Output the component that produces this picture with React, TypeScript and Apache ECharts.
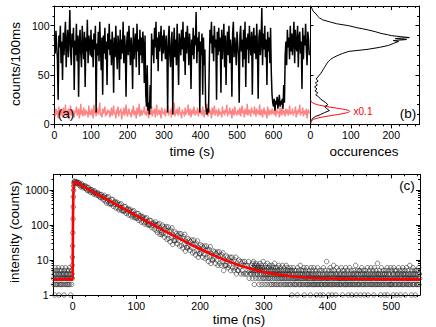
import React, { useEffect, useRef } from "react";
import * as echarts from "echarts";

// ---------- (a) intensity time trace, 2 s bins ----------
const TRACE_BIN_S = 2;
const blackTrace = [
  88, 72, 95, 80, 66, 25, 90, 78, 100, 62, 84, 45, 93, 70, 88, 104, 58, 82, 96, 68, 86, 116, 74, 60, 92,
  78, 98, 35, 85, 70, 102, 64, 90, 28, 84, 96, 72, 58, 100, 80, 66, 94, 38, 88, 74, 106, 62, 90, 82, 70,
  96, 68, 86, 58, 92, 76, 100, 12, 82, 70, 94, 64, 104, 78, 55, 88, 30, 90, 72, 98, 66, 84, 40, 92, 76,
  102, 70, 86, 60, 94, 78, 32, 88, 68, 100, 74, 56, 90, 82, 45, 96, 66, 86, 72, 104, 62, 90, 78, 28, 84,
  94, 70, 100, 80, 60, 88, 76, 36, 98, 66, 84, 92, 58, 102, 74, 86, 50, 96, 70, 88, 62, 94, 80, 42, 90,
  30, 18, 60, 14, 22, 10, 40, 16, 92, 70, 86, 62, 98, 78, 104, 66, 88, 54, 94, 74, 84, 100, 64, 90, 72,
  96, 80, 66, 90, 76, 12, 88, 100, 70, 58, 84, 94, 10, 78, 98, 68, 86, 60, 102, 74, 40, 92, 82, 70, 96,
  76, 104, 64, 88, 50, 94, 72, 100, 84, 60, 92, 78, 36, 86, 70, 98, 66, 90, 80, 114, 62, 88, 74, 94, 12,
  84, 70, 92, 30, 88, 60, 76, 20, 14, 10, 16, 12, 60, 96, 82, 104, 72, 90, 64, 100, 78, 86, 25, 94, 70,
  98, 74, 88, 32, 96, 66, 84, 102, 58, 90, 40, 80, 94, 70, 100, 62, 86, 76, 28, 92, 104, 68, 88, 78, 60,
  94, 82, 70, 22, 90, 100, 74, 86, 58, 96, 66, 104, 38, 88, 76, 92, 62, 100, 80, 70, 94, 30, 86, 98, 72,
  90, 66, 102, 78, 26, 88, 96, 70, 84, 118, 60, 92, 76, 100, 68, 86, 40, 94, 74, 88, 62, 98, 52, 30, 22,
  18, 26, 14, 24, 20, 28, 16, 22, 30, 18, 24, 20, 26, 16, 40, 22, 70, 84, 60, 96, 78, 88, 66, 100, 74,
  92, 70, 86, 104, 62, 96, 80, 74, 100, 58, 88, 94, 72, 84, 36, 98, 66, 90, 80, 102, 76, 60, 94, 86, 70,
];
const redTrace = [
  12, 8, 16, 10, 14, 6, 18, 11, 9, 15, 13, 7, 17, 12, 10, 20, 8, 14, 11, 16, 5, 13, 19, 9, 12,
  15, 10, 7, 14, 12, 18, 9, 13, 16, 6, 11, 21, 10, 14, 8, 17, 12, 9, 15, 11, 13, 7, 19, 10, 14,
  9, 16, 12, 6, 20, 11, 14, 8, 17, 13, 10, 15, 22, 9, 12, 7, 16, 11, 14, 18, 8, 13, 10, 15, 12,
  14, 7, 11, 17, 9, 13, 19, 10, 12, 6, 15, 11, 18, 8, 14, 12, 16, 5, 13, 10, 17, 9, 12, 20, 11,
  8, 13, 16, 10, 12, 7, 15, 11, 19, 9, 14, 12, 6, 17, 10, 13, 21, 8, 11, 15, 9, 14, 12, 18, 10,
  13, 9, 17, 11, 6, 15, 12, 10, 18, 8, 14, 11, 16, 7, 13, 20, 9, 12, 15, 10, 14, 6, 17, 11, 13,
  10, 16, 8, 14, 12, 19, 9, 13, 11, 15, 7, 17, 12, 10, 22, 8, 14, 11, 16, 9, 13, 18, 10, 12, 6,
  15, 11, 13, 8, 17, 10, 14, 12, 20, 9, 11, 16, 7, 13, 15, 10, 18, 12, 9, 14, 11, 17, 8, 13, 16,
  11, 14, 9, 18, 12, 7, 15, 10, 13, 21, 8, 12, 16, 11, 14, 6, 17, 10, 13, 19, 9, 12, 15, 11, 8,
  16, 10, 13, 12, 7, 18, 11, 14, 9, 15, 12, 20, 8, 13, 11, 17, 10, 14, 6, 16, 12, 9, 18, 11, 13,
  9, 15, 12, 10, 17, 8, 13, 19, 11, 14, 7, 16, 12, 10, 21, 9, 13, 15, 11, 8, 17, 12, 14, 10, 18,
  12, 8, 16, 11, 14, 10, 20, 9, 13, 15, 7, 12, 17, 10, 14, 11, 6, 18, 13, 9, 15, 12, 10, 16, 11,
  14, 10, 18, 8, 12, 15, 11, 13, 7, 17, 12, 9, 21, 10, 14, 13, 8, 16, 11, 15, 9, 12, 19, 10, 13,
  11, 16, 9, 13, 12, 18, 7, 14, 10, 15, 12, 20, 9, 13, 11, 17, 8, 14, 12, 10, 16, 6, 13, 15, 11,
];

// ---------- (b) histograms of counts ----------
const histCountBins = [
  0, 2, 4, 6, 8, 10, 12, 14, 16, 18, 20, 22, 24, 26, 28, 30, 32, 34, 36, 38, 40, 42, 44, 46, 48, 50,
  52, 54, 56, 58, 60, 62, 64, 66, 68, 70, 72, 74, 76, 78, 80, 82, 84, 85, 86, 87, 88, 89, 90, 91, 92,
  94, 96, 97, 98, 100, 102, 104, 106, 108, 110, 112, 114, 116, 118, 120,
];
const histBlackOcc = [
  0, 1, 2, 5, 12, 25, 35, 47, 40, 35, 43, 38, 31, 24, 20, 13, 18, 11, 16, 10, 17, 12, 19, 14, 18, 22,
  26, 29, 32, 35, 38, 41, 45, 50, 58, 68, 80, 95, 140, 170, 193, 205, 218, 205, 238, 210, 245, 222, 200, 190, 177,
  160, 140, 128, 115, 95, 65, 47, 30, 22, 17, 14, 8, 5, 3, 1,
];
const redHistBins = [2, 3, 4, 5, 6, 7, 8, 9, 10, 11, 12, 13, 14, 15, 16, 17, 18, 19, 20, 21, 22, 23, 24, 25];
const redHistOccScaled = [0, 1, 3, 7, 14, 24, 37, 52, 67, 81, 92, 97, 95, 86, 72, 56, 41, 28, 17, 10, 5, 2, 1, 0];

// ---------- (c) fluorescence decay ----------
const PRE_START_NS = -30;
const PRE_BIN_NS = 0.5;
const preCounts = [
  3, 2, 5, 4, 1, 3, 6, 2, 4, 3, 2, 5, 3, 4, 2, 6, 3, 1, 4, 2, 5, 3, 2, 4, 3, 5, 2, 6, 3, 4,
  2, 3, 4, 1, 5, 3, 2, 4, 6, 3, 2, 4, 3, 5, 2, 3, 4, 2, 5, 3, 6, 2, 4, 3, 1, 3, 5, 2, 4, 3,
];
const riseTimes = [-0.6, -0.3, 0, 0.3, 0.6, 0.9, 1.2, 1.5, 1.8, 2.1, 2.4];
const riseCounts = [7, 12, 25, 60, 150, 330, 640, 980, 1300, 1540, 1700];
const DECAY_START_NS = 3;
const DECAY_BIN_NS = 1;
const decayCounts = [
  1790, 1650, 1720, 1560, 1700, 1530, 1610,
  1599, 1346, 1442, 1216, 1511, 1278, 1354, 1146, 1229, 1321,
  1116, 1263, 1011, 1162, 953, 1171, 961, 1029, 848, 1020,
  1005, 846, 907, 764, 950, 803, 851, 721, 773, 830,
  702, 794, 636, 731, 599, 737, 604, 647, 534, 641,
  703, 486, 588, 427, 614, 480, 638, 408, 496, 418,
  391, 536, 400, 529, 339, 447, 385, 455, 305, 415,
  443, 306, 370, 269, 387, 302, 401, 257, 313, 263,
  246, 338, 252, 333, 214, 282, 242, 287, 192, 261,
  280, 193, 234, 170, 244, 191, 254, 162, 197, 166,
  155, 213, 159, 211, 135, 178, 153, 181, 121, 165,
  176, 122, 147, 107, 154, 120, 160, 102, 125, 105,
  98, 135, 101, 133, 85, 112, 97, 114, 77, 104,
  122, 71, 98, 61, 104, 73, 110, 54, 81, 62,
  54, 99, 57, 89, 45, 79, 55, 89, 39, 68,
  87, 41, 66, 33, 71, 45, 83, 28, 52, 36,
  35, 63, 37, 57, 29, 50, 36, 57, 25, 44,
  56, 26, 42, 22, 46, 29, 54, 18, 34, 23,
  22, 41, 24, 37, 19, 33, 23, 37, 16, 28,
  37, 17, 28, 14, 30, 19, 35, 12, 22, 15,
  15, 27, 16, 25, 12, 22, 15, 25, 11, 19,
  25, 12, 19, 9, 20, 13, 24, 8, 15, 10,
  10, 18, 11, 17, 8, 15, 10, 17, 7, 13,
  17, 8, 13, 7, 14, 9, 16, 5, 10, 7,
  7, 13, 7, 12, 6, 10, 7, 12, 5, 9,
  12, 6, 9, 5, 10, 6, 12, 4, 7, 5,
  5, 10, 6, 9, 4, 8, 5, 9, 4, 7,
  9, 4, 7, 4, 7, 5, 9, 3, 5, 4,
];
const TAIL_START_NS = 280;
const TAIL_BIN_NS = 0.5;
const tailCounts = [
  5, 7, 4, 6, 3, 8, 5, 9, 4, 6, 2, 7, 5, 6, 3, 8, 4, 5, 7, 6,
  4, 6, 3, 7, 5, 2, 6, 4, 8, 5, 3, 6, 4, 7, 2, 5, 6, 3, 9, 4,
  3, 5, 6, 2, 4, 7, 3, 5, 4, 6, 2, 8, 4, 3, 5, 6, 3, 4, 7, 2,
  5, 3, 4, 6, 2, 5, 7, 3, 4, 2, 6, 4, 5, 3, 8, 2, 4, 6, 3, 5,
  2, 4, 6, 3, 5, 2, 4, 7, 3, 4, 5, 2, 6, 3, 4, 2, 5, 3, 7, 4,
  3, 5, 2, 4, 6, 3, 2, 5, 4, 3, 7, 2, 4, 3, 5, 6, 2, 4, 3, 5,
  4, 2, 3, 6, 2, 5, 3, 4, 1, 5, 3, 2, 6, 4, 3, 2, 5, 3, 4, 2,
  3, 5, 2, 4, 3, 1, 6, 3, 4, 2, 5, 3, 2, 4, 7, 3, 2, 4, 3, 5,
  2, 4, 3, 5, 2, 3, 6, 1, 4, 3, 2, 5, 3, 4, 2, 6, 3, 2, 4, 3,
  4, 2, 5, 3, 2, 4, 1, 3, 6, 2, 4, 3, 5, 2, 3, 4, 2, 6, 3, 2,
  3, 4, 2, 5, 3, 1, 4, 2, 3, 6, 2, 4, 3, 2, 5, 3, 4, 1, 3, 2,
  2, 3, 5, 2, 4, 3, 1, 6, 3, 2, 4, 2, 5, 3, 2, 4, 3, 9, 2, 3,
  4, 2, 3, 1, 5, 3, 2, 4, 6, 2, 3, 4, 2, 5, 1, 3, 2, 4, 3, 7,
  2, 5, 3, 2, 4, 3, 1, 4, 2, 6, 3, 2, 4, 3, 5, 2, 3, 4, 2, 3,
  3, 2, 4, 6, 2, 3, 5, 1, 3, 4, 2, 3, 5, 2, 4, 3, 2, 6, 3, 2,
  4, 3, 2, 5, 3, 1, 4, 2, 3, 6, 2, 4, 3, 2, 5, 3, 1, 4, 2, 3,
  2, 4, 3, 5, 2, 3, 4, 2, 7, 3, 1, 4, 2, 5, 3, 2, 4, 3, 2, 5,
  3, 2, 5, 1, 4, 3, 2, 6, 3, 4, 2, 3, 5, 2, 4, 1, 3, 2, 4, 3,
  5, 2, 3, 4, 2, 6, 3, 1, 4, 3, 2, 5, 3, 2, 4, 3, 6, 2, 3, 4,
  2, 3, 5, 2, 4, 1, 3, 6, 2, 4, 3, 2, 5, 3, 4, 2, 3, 8, 2, 4,
  3, 4, 2, 5, 3, 2, 4, 1, 3, 6, 2, 3, 4, 2, 5, 3, 2, 4, 3, 1,
  4, 2, 3, 5, 2, 4, 3, 6, 1, 3, 2, 4, 5, 2, 3, 4, 2, 3, 6, 2,
  2, 5, 3, 2, 4, 3, 1, 4, 6, 2, 3, 5, 2, 4, 3, 2, 5, 1, 3, 4,
  3, 2, 4, 6, 2, 3, 5, 2, 4, 1, 3, 2, 4, 3, 5, 2, 6, 3, 2, 4,
  4, 3, 2, 5, 1, 3, 4, 2, 6, 3, 2, 4, 3, 5, 2, 3, 4, 2, 7, 3,
  2, 4, 3, 1, 5, 3, 2, 4, 6, 2, 3, 4, 2, 5, 3, 1, 4, 3, 2, 5,
  3, 2, 4, 5, 2, 3, 6, 2, 4, 3,
];
const fitTimes = [
  -30, -1, 0, 0.6, 1.2, 1.8, 2.5, 3.2, 4, 10, 20, 30, 40, 50, 60, 70, 80, 90, 100, 110, 120, 130, 140, 150,
  160, 170, 180, 190, 200, 210, 220, 230, 240, 250, 260, 270, 280, 290, 300, 320, 340, 360, 380, 400, 450, 500, 545,
];
const fitValues = [
  2.8, 2.8, 3, 200, 800, 1350, 1650, 1720, 1700, 1481, 1175, 931, 739, 586, 465, 369, 293, 233, 185, 147, 117, 93.6, 74.8, 59.8,
  48, 38.6, 31.2, 25.3, 20.6, 16.9, 14.0, 11.7, 9.8, 8.4, 7.2, 6.3, 5.6, 5.0, 4.5, 3.9, 3.5, 3.2, 3.07, 2.97, 2.86, 2.82, 2.8,
];

// ---------- tick values ----------
const traceLabels = [0, 100, 200, 300, 400, 500, 600];
const countsLabels = [0, 50, 100];
const occLabels = [0, 100, 200];
const nsLabels = [0, 100, 200, 300, 400, 500];
const logLabels = [1, 10, 100, 1000];

const FONT = "'Liberation Sans', Arial, Helvetica, sans-serif";

function stepTicks(from: number, to: number, step: number) {
  const out: number[] = [];
  for (let v = from; v <= to + 1e-9; v += step) out.push(Math.round(v * 1000) / 1000);
  return out;
}
function minorOf(all: number[], majors: number[]) {
  return all.filter((v) => !majors.includes(v));
}
function logMinor(maxV: number) {
  const out: number[] = [];
  for (const d of [1, 10, 100, 1000]) for (let k = 2; k <= 9; k++) if (k * d <= maxV) out.push(k * d);
  return out;
}

type AxOpt = {
  grid: number; pos: string; min: number; max: number; ticks: number[]; len: number;
  inside: boolean; line: boolean; labels?: number[]; log?: boolean;
};
function mkAxis(o: AxOpt) {
  return {
    type: o.log ? "log" : "value",
    logBase: 10,
    gridIndex: o.grid,
    position: o.pos,
    min: o.min,
    max: o.max,
    silent: true,
    axisLine: { show: o.line, onZero: false, lineStyle: { color: "#000", width: 1 } },
    axisTick: {
      show: o.ticks.length > 0, inside: o.inside, length: o.len, customValues: o.ticks,
      lineStyle: { color: "#000", width: 1 },
    },
    axisLabel: o.labels
      ? {
          show: true, customValues: o.labels, formatter: (v: number) => String(Math.round(v)),
          fontSize: 10.5, fontFamily: FONT, color: "#000", margin: 5,
        }
      : { show: false },
    splitLine: { show: false },
    minorTick: { show: false },
    minorSplitLine: { show: false },
  };
}

function buildOption() {
  const T_MAX = 700, C_MAX = 120, OCC_MAX = 270, NS_MIN = -30, NS_MAX = 545, LOG_MAX = 2800;
  const traceAll = stepTicks(0, 680, 20);
  const countAll = stepTicks(0, 120, 10);
  const occAll = stepTicks(0, 260, 20);
  const nsAll = stepTicks(-20, 540, 20);
  const logMin = logMinor(LOG_MAX);

  const xAxis = [
    mkAxis({ grid: 0, pos: "bottom", min: 0, max: T_MAX, ticks: traceLabels, len: 4, inside: false, line: true, labels: traceLabels }),
    mkAxis({ grid: 0, pos: "bottom", min: 0, max: T_MAX, ticks: minorOf(traceAll, traceLabels), len: 2, inside: false, line: false }),
    mkAxis({ grid: 0, pos: "top", min: 0, max: T_MAX, ticks: traceLabels, len: 4, inside: true, line: true }),
    mkAxis({ grid: 0, pos: "top", min: 0, max: T_MAX, ticks: minorOf(traceAll, traceLabels), len: 2, inside: true, line: false }),
    mkAxis({ grid: 1, pos: "bottom", min: 0, max: OCC_MAX, ticks: occLabels, len: 4, inside: false, line: true, labels: occLabels }),
    mkAxis({ grid: 1, pos: "bottom", min: 0, max: OCC_MAX, ticks: minorOf(occAll, occLabels), len: 2, inside: false, line: false }),
    mkAxis({ grid: 1, pos: "top", min: 0, max: OCC_MAX, ticks: occLabels, len: 4, inside: true, line: true }),
    mkAxis({ grid: 1, pos: "top", min: 0, max: OCC_MAX, ticks: minorOf(occAll, occLabels), len: 2, inside: true, line: false }),
    mkAxis({ grid: 2, pos: "bottom", min: NS_MIN, max: NS_MAX, ticks: nsLabels, len: 4, inside: false, line: true, labels: nsLabels }),
    mkAxis({ grid: 2, pos: "bottom", min: NS_MIN, max: NS_MAX, ticks: minorOf(nsAll, nsLabels), len: 2, inside: false, line: false }),
    mkAxis({ grid: 2, pos: "top", min: NS_MIN, max: NS_MAX, ticks: nsLabels, len: 4, inside: true, line: true }),
    mkAxis({ grid: 2, pos: "top", min: NS_MIN, max: NS_MAX, ticks: minorOf(nsAll, nsLabels), len: 2, inside: true, line: false }),
  ];
  const yAxis = [
    mkAxis({ grid: 0, pos: "left", min: 0, max: C_MAX, ticks: countsLabels, len: 4, inside: false, line: true, labels: countsLabels }),
    mkAxis({ grid: 0, pos: "left", min: 0, max: C_MAX, ticks: minorOf(countAll, countsLabels), len: 2, inside: false, line: false }),
    mkAxis({ grid: 1, pos: "left", min: 0, max: C_MAX, ticks: countsLabels, len: 3, inside: true, line: true }),
    mkAxis({ grid: 1, pos: "right", min: 0, max: C_MAX, ticks: countsLabels, len: 4, inside: true, line: true }),
    mkAxis({ grid: 1, pos: "right", min: 0, max: C_MAX, ticks: minorOf(countAll, countsLabels), len: 2.5, inside: true, line: false }),
    mkAxis({ grid: 2, pos: "left", min: 1, max: LOG_MAX, ticks: logLabels, len: 4, inside: false, line: true, labels: logLabels, log: true }),
    mkAxis({ grid: 2, pos: "left", min: 1, max: LOG_MAX, ticks: logMin, len: 2, inside: false, line: false, log: true }),
    mkAxis({ grid: 2, pos: "right", min: 1, max: LOG_MAX, ticks: logLabels, len: 4, inside: true, line: true, log: true }),
    mkAxis({ grid: 2, pos: "right", min: 1, max: LOG_MAX, ticks: logMin, len: 2, inside: true, line: false, log: true }),
  ];

  const blackData = blackTrace.map((v, i) => [i * TRACE_BIN_S, v]);
  const redData = redTrace.map((v, i) => [i * TRACE_BIN_S, v]);
  const histBlack = histCountBins.map((c, i) => [histBlackOcc[i], c]);
  const histRed = redHistBins.map((c, i) => [redHistOccScaled[i], c]);

  const scatter: number[][] = [];
  preCounts.forEach((v, i) => scatter.push([PRE_START_NS + i * PRE_BIN_NS, v]));
  riseTimes.forEach((t, i) => scatter.push([t, riseCounts[i]]));
  decayCounts.forEach((v, i) => scatter.push([DECAY_START_NS + i * DECAY_BIN_NS, v]));
  tailCounts.forEach((v, i) => scatter.push([TAIL_START_NS + i * TAIL_BIN_NS, v]));
  const scatterData = scatter.filter((p) => p[1] > 0);
  const fitData = fitTimes.map((t, i) => [t, fitValues[i]]);

  const txt = (text: string, x: number, y: number, size: number, opts: any = {}) => ({
    type: "text", x, y, rotation: opts.rot || 0, z: 100,
    style: {
      text, fontSize: size, fontFamily: FONT, fill: opts.color || "#000",
      align: "center", verticalAlign: "middle",
    },
  });

  return {
    animation: false,
    backgroundColor: "#fff",
    grid: [
      { left: 54.5, top: 6, width: 255.5, height: 118.4 },
      { left: 310.5, top: 6, width: 109, height: 118.4 },
      { left: 53.5, top: 174.3, width: 366.5, height: 120.7 },
    ],
    xAxis,
    yAxis,
    series: [
      {
        type: "line", xAxisIndex: 0, yAxisIndex: 0, data: redData, showSymbol: false, symbol: "none",
        lineStyle: { color: "#ff4040", width: 1.4, opacity: 0.65 }, silent: true, z: 2,
      },
      {
        type: "line", xAxisIndex: 0, yAxisIndex: 0, data: blackData, showSymbol: false, symbol: "none",
        lineStyle: { color: "#000", width: 1.5 }, silent: true, z: 3,
      },
      {
        type: "line", xAxisIndex: 4, yAxisIndex: 2, data: histBlack, showSymbol: false, symbol: "none",
        lineStyle: { color: "#000", width: 1 }, silent: true, z: 3,
      },
      {
        type: "line", xAxisIndex: 4, yAxisIndex: 2, data: histRed, showSymbol: false, symbol: "none", smooth: 0.3,
        lineStyle: { color: "#ff0000", width: 1 }, silent: true, z: 3,
      },
      {
        type: "scatter", xAxisIndex: 8, yAxisIndex: 5, data: scatterData, symbol: "circle", symbolSize: 4.5,
        itemStyle: { color: "rgba(0,0,0,0)", borderColor: "#222", borderWidth: 0.7 }, silent: true, z: 2,
      },
      {
        type: "line", xAxisIndex: 8, yAxisIndex: 5, data: fitData, showSymbol: false, symbol: "none",
        lineStyle: { color: "#ff0000", width: 2.6 }, silent: true, z: 4,
      },
    ],
    graphic: [
      txt("counts/100ms", 15, 64, 13.5, { rot: Math.PI / 2 }),
      txt("time (s)", 192, 151, 13.5),
      txt("occurences", 364, 151, 13.5),
      txt("intensity (counts)", 14, 232, 13.5, { rot: Math.PI / 2 }),
      txt("time (ns)", 239, 319, 13.5),
      txt("(a)", 66, 113, 13.5),
      txt("(b)", 408, 113, 13.5),
      txt("(c)", 407, 185, 13.5),
      txt("x0.1", 363, 111, 10, { color: "#ff0000" }),
    ],
  };
}

export default function App() {
  const ref = useRef<HTMLDivElement>(null);
  useEffect(() => {
    if (!ref.current) return;
    const chart = echarts.init(ref.current, null, { renderer: "svg" });
    chart.setOption(buildOption() as any);
    return () => chart.dispose();
  }, []);
  return (
    <div
      ref={ref}
      style={{ position: "absolute", left: 0, top: 0, width: 436, height: 327, background: "#fff" }}
    />
  );
}
